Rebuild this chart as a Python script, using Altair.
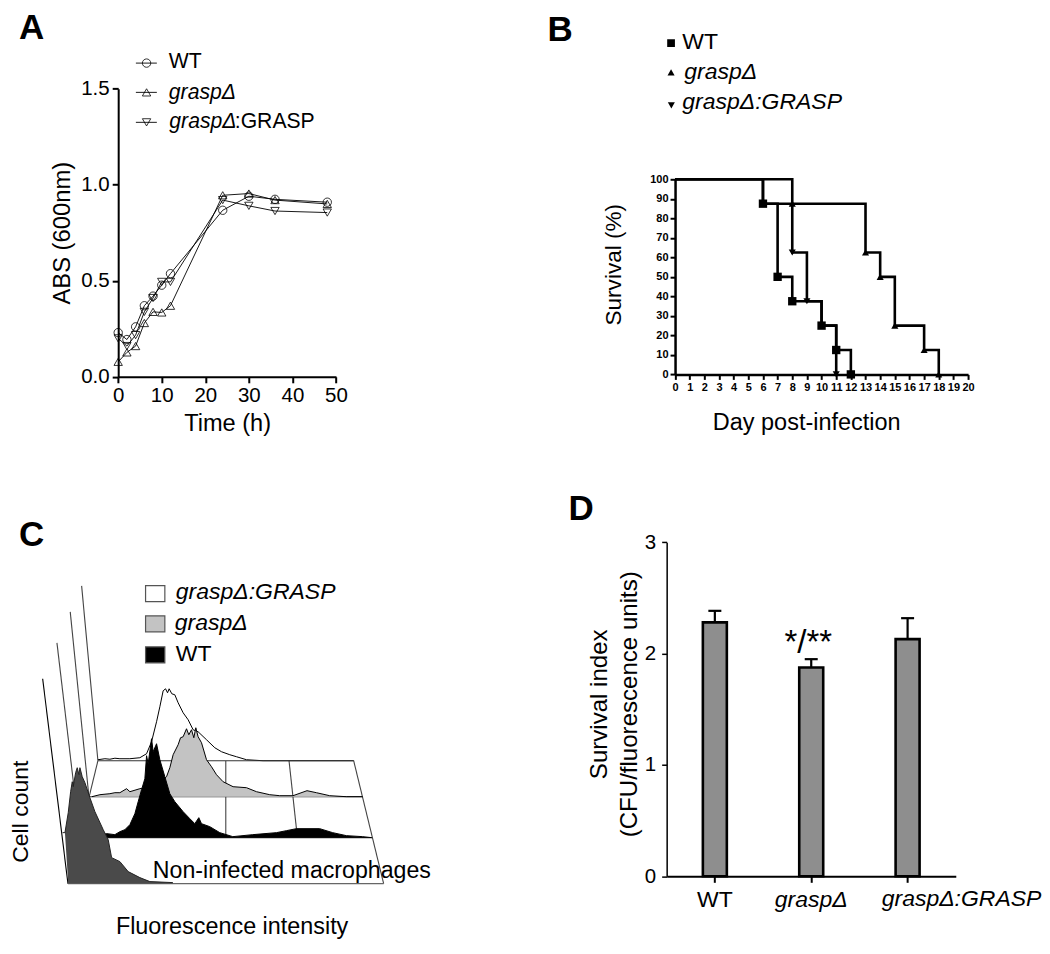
import altair as alt
import pandas as pd

FONT = "Liberation Sans"

# ---------- Panel A data ----------
a_time = [0, 2, 4, 6, 8, 10, 12, 24, 30, 36, 48]
a_wt = [0.23, 0.194, 0.26, 0.37, 0.42, 0.477, 0.537, 0.867, 0.94, 0.924, 0.909]
a_grasp = [0.078, 0.127, 0.16, 0.28, 0.338, 0.335, 0.37, 0.945, 0.954, 0.92, 0.90]
a_comp = [0.2, 0.16, 0.217, 0.338, 0.41, 0.494, 0.494, 0.92, 0.89, 0.863, 0.855]

# ---------- Panel B data ----------
b_wt_day = [0, 6, 7, 8, 10, 11, 12]
b_wt_surv = [100, 87.5, 50, 37.5, 25, 12.5, 0]
b_grasp_day = [0, 6, 8, 13, 14, 15, 17, 18]
b_grasp_surv = [100, 87.5, 87.5, 62.5, 50, 25, 12.5, 0]
b_comp_day = [0, 8, 9, 10, 11]
b_comp_surv = [100, 62.5, 37.5, 25, 0]

# ---------- Panel C data: intensity position and height above each plane ----------
c_comp_x = [98, 105, 110, 115, 120, 130, 140, 146.7, 151.7, 156.7, 160, 163.3, 165.7, 167.7, 169.3, 172, 175,
            178.3, 183.3, 188.3, 193.3, 198.3, 206.7, 215, 221.7, 230, 236.7, 246.7, 263.3, 354]
c_comp_h = [1, 2, 1.5, 2.5, 2, 2, 3, 7, 19, 39, 54, 70, 72, 68, 72, 67, 66,
            58, 48, 41, 31, 29, 21, 13, 9, 6, 4, 1, 0, 0]
c_grasp_x = [92, 100, 110, 115, 120, 126.7, 130, 140, 150, 160, 166.7, 170, 173.3, 178.3, 180.7, 183.3, 186.7,
             189, 191.7, 194, 196, 198.3, 201.7, 206.7, 211.7, 216.7, 223.3, 233.3, 246.7, 256.7, 270, 280, 293.3,
             307.3, 316.7, 330, 346.7, 363]
c_grasp_h = [0, 2, 3, 4, 4, 8, 5, 8, 10, 14, 20, 29, 42, 52, 59, 60, 68,
             62, 67, 59, 69, 60, 54, 37, 30, 22, 15, 10, 9, 5, 2, 1, 1,
             6, 4, 1, 0, 0]
c_wt_x = [100, 107, 115, 120, 125, 130, 135, 138.3, 141.7, 145, 146.7, 148.3, 151.7, 153.3, 156.7, 160, 165, 170,
          175, 183.3, 190, 195, 199, 201.7, 210, 220, 233, 253, 276.7, 286.7, 296.7, 320, 333, 346.7, 363, 372]
c_wt_h = [3, 4, 3, 6, 8, 13, 24, 36, 48, 59, 82, 74, 99, 86, 94, 78, 61, 44,
          36, 26, 19, 14, 20, 14, 11, 5, 1, 3, 5, 7, 9, 9, 5, 2, 1, 0]
c_non_x = [62.7, 65, 68.3, 70.7, 72.3, 73.3, 75.7, 77.3, 79, 80, 82.3, 85, 90, 95, 103.3, 108.3, 111.7, 120,
           128.3, 140, 150, 173]
c_non_h = [51, 51, 71, 92, 102, 97, 111, 116, 109, 116, 107, 101, 86, 72, 54, 44, 26, 22,
           12, 6, 2, 1]
c_plane_y = [761, 797, 838, 884]
c_plane_x0 = [98, 89, 80, 68]
c_plane_x1 = [354, 363, 372.7, 384]
c_wall_top_x = [81.7, 70.3, 57, 42.7]
c_wall_top_y = [586, 612, 643, 679]

# ---------- Panel D data ----------
d_cats = ["WT", "graspΔ", "graspΔ:GRASP"]
d_vals = [2.28, 1.875, 2.13]
d_tops = [2.384, 1.95, 2.318]

# ---------- Layout (reference pixels) ----------
Q_X = [8, 520, 1042]
Q_Y = [8, 485, 945]
A_ORIGIN = (Q_X[0], Q_Y[0])
B_ORIGIN = (Q_X[1], Q_Y[0])
C_ORIGIN = (Q_X[0], Q_Y[1])
D_ORIGIN = (Q_X[1], Q_Y[1])
A_H = Q_Y[1] - Q_Y[0]
C_H = Q_Y[2] - Q_Y[1]
L_W = Q_X[1] - Q_X[0]
R_W = Q_X[2] - Q_X[1]


def label(origin, text, x, y, size, **kw):
    kw.setdefault("align", "left")
    kw.setdefault("baseline", "middle")
    kw.setdefault("font", FONT)
    kw.setdefault("color", "black")
    return alt.Chart(pd.DataFrame({"t": [text]})).mark_text(fontSize=size, **kw).encode(
        x=alt.value(x - origin[0]), y=alt.value(y - origin[1]), text="t:N")


def key_symbol(origin, shape, x, y, size, filled, x0=None, x1=None):
    df = pd.DataFrame({"a": [0]})
    layers = []
    if x0 is not None:
        layers.append(alt.Chart(df).mark_rule(color="black", strokeWidth=0.9).encode(
            x=alt.value(x0 - origin[0]), x2=alt.value(x1 - origin[0]), y=alt.value(y - origin[1])))
    layers.append(alt.Chart(df).mark_point(
        shape=shape, size=size, filled=filled, color="black", strokeWidth=0.8,
        opacity=1).encode(x=alt.value(x - origin[0]), y=alt.value(y - origin[1])))
    return layers


def axis_style(**kw):
    base = dict(grid=False, domainColor="black", tickColor="black", labelFont=FONT, labelColor="black",
                labelFlush=False, labelOverlap=False, titleFont=FONT, titleFontWeight="normal", titleColor="black")
    base.update(kw)
    return alt.Axis(**base)


# ---------- Panel A ----------
A_L, A_R, A_T, A_B = 118.3, 336.3, 88.3, 376.7
ax_a = alt.X("x:Q", scale=alt.Scale(domain=[0, 50], range=[A_L - A_ORIGIN[0], A_R - A_ORIGIN[0]], nice=False, zero=False),
             title="Time (h)",
             axis=axis_style(values=[0, 10, 20, 30, 40, 50], format="d", domainWidth=2, tickWidth=2, tickSize=6,
                             labelFontSize=20.5, labelPadding=3, titleFontSize=23.6, titlePadding=5,
                             offset=-(Q_Y[1] - A_B)))
ay_a = alt.Y("y:Q", scale=alt.Scale(domain=[0, 1.5], range=[A_B - A_ORIGIN[1], A_T - A_ORIGIN[1]], nice=False, zero=False),
             title="ABS (600nm)",
             axis=axis_style(values=[0, 0.5, 1, 1.5], format=".1f", domainWidth=2, tickWidth=2, tickSize=6,
                             labelFontSize=20.5, labelPadding=3, titleFontSize=23.8, titlePadding=6,
                             offset=-(A_L - A_ORIGIN[0])))
a_layers = []
for vals, shape in [(a_grasp, "triangle-up"), (a_comp, "triangle-down"), (a_wt, "circle")]:
    df = pd.DataFrame({"x": a_time, "y": vals})
    a_layers.append(alt.Chart(df).mark_line(color="black", strokeWidth=0.9).encode(x=ax_a, y=ay_a))
    a_layers.append(alt.Chart(df).mark_point(shape=shape, size=70, filled=False, color="black", strokeWidth=0.8,
                                             opacity=1).encode(x=ax_a, y=ay_a))
a_layers.append(label(A_ORIGIN, "A", 19, 28, 35, fontWeight="bold"))
for shape, y in [("circle", 62.7), ("triangle-up", 92), ("triangle-down", 122)]:
    a_layers += key_symbol(A_ORIGIN, shape, 146.7, y, 70, False, 136, 157)
a_layers.append(label(A_ORIGIN, "WT", 169, 62, 21.2))
a_layers.append(label(A_ORIGIN, "graspΔ", 169, 93, 21.2, fontStyle="italic"))
a_layers.append(label(A_ORIGIN, "graspΔ", 169.5, 122, 21.2, fontStyle="italic"))
a_layers.append(label(A_ORIGIN, ":GRASP", 235, 122, 21.2))
panel_a = alt.layer(*a_layers).properties(width=L_W, height=A_H)

# ---------- Panel B ----------
B_L, B_R, B_T, B_B = 675.7, 969, 179, 374.3
ax_b = alt.X("x:Q", scale=alt.Scale(domain=[0, 20], range=[B_L - B_ORIGIN[0], B_R - B_ORIGIN[0]], nice=False, zero=False),
             title="Day post-infection",
             axis=axis_style(values=list(range(21)), format="d", domainWidth=2.5, tickWidth=2, tickSize=5,
                             labelFontSize=11, labelFontWeight="bold", labelPadding=2, titleFontSize=23.5,
                             titlePadding=18, titleX=807 - B_ORIGIN[0], offset=-(Q_Y[1] - B_B)))
ay_b = alt.Y("y:Q", scale=alt.Scale(domain=[0, 100], range=[B_B - B_ORIGIN[1], B_T - B_ORIGIN[1]], nice=False, zero=False),
             title="Survival (%)",
             axis=axis_style(values=list(range(0, 101, 10)), format="d", domainWidth=2.5, tickWidth=2, tickSize=5,
                             labelFontSize=11, labelFontWeight="bold", labelPadding=2, titleFontSize=22.6,
                             titlePadding=24, titleY=264 - B_ORIGIN[1], offset=-(B_L - B_ORIGIN[0])))
b_layers = []
for d, s, shape, size in [(b_comp_day, b_comp_surv, "triangle-down", 50),
                          (b_grasp_day, b_grasp_surv, "triangle-up", 50),
                          (b_wt_day, b_wt_surv, "square", 70)]:
    df = pd.DataFrame({"x": d, "y": s})
    b_layers.append(alt.Chart(df).mark_line(color="black", strokeWidth=2.6, interpolate="step-after").encode(x=ax_b, y=ay_b))
    b_layers.append(alt.Chart(df[df.x > 0]).mark_point(shape=shape, size=size, filled=True, color="black",
                                                       opacity=1).encode(x=ax_b, y=ay_b))
b_layers.append(label(B_ORIGIN, "B", 548, 30, 35, fontWeight="bold"))
b_layers += key_symbol(B_ORIGIN, "square", 671.7, 42.7, 60, True)
b_layers += key_symbol(B_ORIGIN, "triangle-up", 671.7, 72, 50, True)
b_layers += key_symbol(B_ORIGIN, "triangle-down", 672, 105, 50, True)
b_layers.append(label(B_ORIGIN, "WT", 683, 42, 23))
b_layers.append(label(B_ORIGIN, "graspΔ", 685, 72, 23, fontStyle="italic"))
b_layers.append(label(B_ORIGIN, "graspΔ:GRASP", 683, 102, 23, fontStyle="italic"))
panel_b = alt.layer(*b_layers).properties(width=R_W, height=A_H)

# ---------- Panel C ----------
cx = alt.X("x:Q", scale=alt.Scale(domain=[Q_X[0], Q_X[1]], nice=False, zero=False), axis=None)
cy = alt.Y("y:Q", scale=alt.Scale(domain=[Q_Y[2], Q_Y[1]], nice=False, zero=False), axis=None)


def seg(x0, y0, x1, y1, color="#444444", width=1.1):
    return alt.Chart(pd.DataFrame({"x": [x0, x1], "y": [y0, y1]})).mark_line(
        color=color, strokeWidth=width, orient="vertical").encode(x=cx, y=cy)


def hist(xs, hs, plane, fill, line):
    base = c_plane_y[plane]
    corner = c_plane_x0[plane]
    df = pd.DataFrame({"x": xs, "y": [base - h for h in hs],
                       "y2": [base if x >= corner else base - h for x, h in zip(xs, hs)]})
    area = alt.Chart(df).mark_area(color=fill, orient="vertical", opacity=1).encode(x=cx, y=cy, y2="y2:Q")
    top = alt.Chart(df).mark_line(color=line, strokeWidth=1, orient="vertical").encode(x=cx, y=cy)
    return [area, top]


c_layers = []
for i in range(4):
    c_layers.append(seg(c_wall_top_x[i], c_wall_top_y[i], c_plane_x0[i], c_plane_y[i],
                        color="black" if i == 3 else "#444444"))
c_layers.append(seg(c_plane_x0[3], c_plane_y[3], c_plane_x0[0], c_plane_y[0]))
c_layers.append(seg(c_plane_x1[3], c_plane_y[3], c_plane_x1[0], c_plane_y[0]))
c_layers.append(seg(226, c_plane_y[0], 226, c_plane_y[2]))
c_layers.append(seg(289.3, c_plane_y[0], 297.7, c_plane_y[2]))
c_layers += hist(c_comp_x, c_comp_h, 0, "white", "black")
for i in range(4):
    c_layers.append(seg(c_plane_x0[i], c_plane_y[i], c_plane_x1[i], c_plane_y[i],
                        color="#333333" if i != 3 else "#666666"))
c_layers += hist(c_grasp_x, c_grasp_h, 1, "#c3c3c3", "black")
c_layers += hist(c_wt_x, c_wt_h, 2, "black", "black")
c_layers += hist(c_non_x, c_non_h, 3, "#4a4a4a", "#222222")
leg = pd.DataFrame({"x": [145.7] * 3, "x2": [165] * 3, "y": [585.7, 616, 647], "y2": [601.7, 632, 663],
                    "f": ["white", "#c3c3c3", "black"]})
c_layers.append(alt.Chart(leg).mark_rect(stroke="#555555", strokeWidth=1.2).encode(
    x=cx, x2="x2:Q", y=cy, y2="y2:Q", fill=alt.Fill("f:N", scale=None)))
c_layers.append(label(C_ORIGIN, "C", 19, 535, 35, fontWeight="bold"))
c_layers.append(label(C_ORIGIN, "graspΔ:GRASP", 176, 592, 23, fontStyle="italic"))
c_layers.append(label(C_ORIGIN, "graspΔ", 175, 623, 23, fontStyle="italic"))
c_layers.append(label(C_ORIGIN, "WT", 176, 654, 23))
c_layers.append(label(C_ORIGIN, "Non-infected macrophages", 153, 871, 23.2))
c_layers.append(label(C_ORIGIN, "Fluorescence intensity", 116, 927, 23.4))
c_layers.append(label(C_ORIGIN, "Cell count", 21, 812, 23, angle=270, align="center"))
panel_c = alt.layer(*c_layers).properties(width=L_W, height=C_H)

# ---------- Panel D ----------
D_L, D_R, D_T, D_B = 667.3, 956.7, 542.3, 876.7
dx = alt.X("c:N", scale=alt.Scale(type="band", domain=d_cats, range=[D_L - D_ORIGIN[0], D_R - D_ORIGIN[0]],
                                  paddingInner=0, paddingOuter=0), title=None,
           axis=axis_style(labelAngle=0, domainWidth=2, tickWidth=2, tickSize=6, labelFontSize=23, labelPadding=6,
                           labelExpr="datum.value == 'graspΔ:GRASP' ? '' : datum.value",
                           labelFontStyle=alt.expr("datum.value == 'WT' ? 'normal' : 'italic'"),
                           offset=-(Q_Y[2] - D_B)))
d_axis_y = axis_style(values=[0, 1, 2, 3], format="d", domainWidth=1.5, tickWidth=1.5, tickSize=5,
                      labelFontSize=20.5, labelPadding=6, titleFontSize=24.1, titleLineHeight=30, titlePadding=3,
                      titleY=704 - D_ORIGIN[1], offset=-(D_L - D_ORIGIN[0]))
d_title = ["Survival index", "(CFU/fluorescence units)"]
d_scale = alt.Scale(domain=[0, 3], range=[D_B - D_ORIGIN[1], D_T - D_ORIGIN[1]], nice=False, zero=False)
dy = alt.Y("v:Q", scale=d_scale, title=d_title, axis=d_axis_y)
dyt = alt.Y("t:Q", scale=d_scale, title=d_title, axis=d_axis_y)
df_d = pd.DataFrame({"c": d_cats, "v": d_vals, "t": d_tops})
d_layers = [
    alt.Chart(df_d).mark_rule(color="black", strokeWidth=2.2).encode(x=dx, y=dy, y2="t:Q"),
    alt.Chart(df_d).mark_tick(color="black", size=13, thickness=2.2, opacity=1).encode(x=dx, y=dyt),
    alt.Chart(df_d).mark_bar(size=24, color="#8e8e8e", stroke="black", strokeWidth=2.6).encode(x=dx, y=dy),
    alt.Chart(pd.DataFrame({"c": [d_cats[2]], "t": [d_cats[2]]})).mark_text(
        font=FONT, fontSize=23, fontStyle="italic", color="black", dx=54).encode(
        x=dx, y=alt.value(899 - D_ORIGIN[1]), text="t:N"),
    label(D_ORIGIN, "*/**", 809, 643, 33, align="center"),
    label(D_ORIGIN, "D", 569, 509, 35, fontWeight="bold"),
]
panel_d = alt.layer(*d_layers).properties(width=R_W, height=C_H)

chart = alt.concat(panel_a, panel_b, panel_c, panel_d, columns=2, align="each", bounds="flush", spacing=0,
                   ).properties(padding={"left": 0, "right": 0, "top": 0, "bottom": 0}).configure_view(stroke=None)

chart.save("out.html", embed_options={"renderer": "svg", "actions": False})
